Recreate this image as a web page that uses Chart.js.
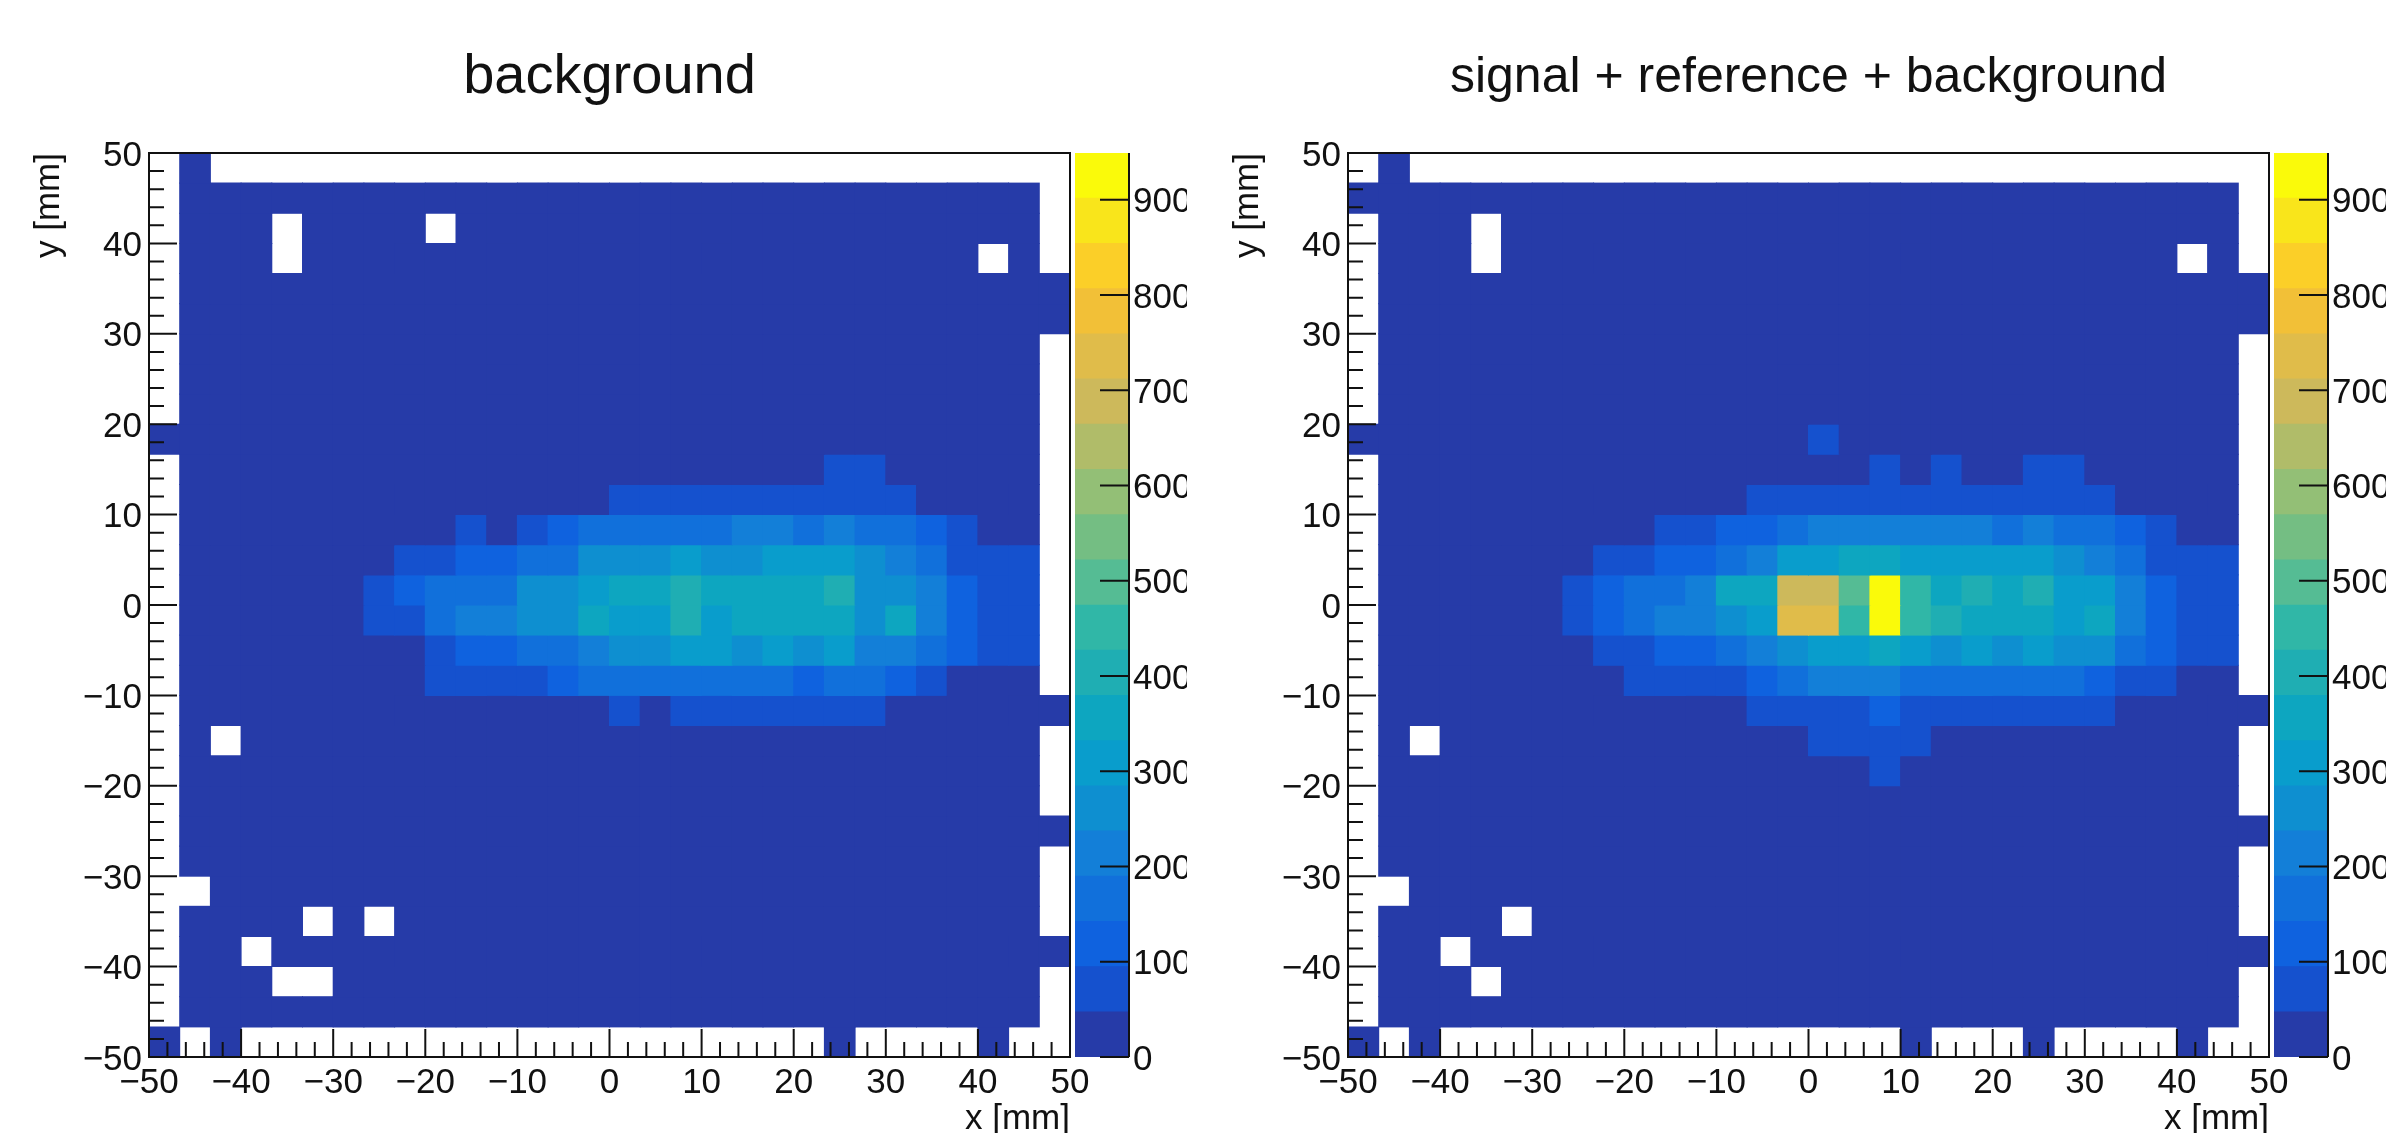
<!DOCTYPE html>
<html>
<head>
<meta charset="utf-8">
<title>background / signal + reference + background</title>
<script src="https://cdn.jsdelivr.net/npm/chart.js@4"></script>
<style>
  html, body { margin: 0; padding: 0; background: #fff; overflow: hidden; }
  canvas { position: absolute; top: 0; }
</style>
</head>
<body>
<canvas id="panelBackground" width="1170" height="1133" style="left:0"></canvas>
<canvas id="panelSignal" width="1170" height="1133" style="left:1199px"></canvas>
<canvas id="paletteBackground" width="112" height="1133" style="left:1075px"></canvas>
<canvas id="paletteSignal" width="112" height="1133" style="left:2274px"></canvas>
<script>
const N = null;

// Bin edges along both axes, in mm
const binEdges = [-50, -46.67, -43.33, -40, -36.67, -33.33, -30, -26.67, -23.33, -20, -16.67, -13.33, -10, -6.67, -3.33,
  0, 3.33, 6.67, 10, 13.33, 16.67, 20, 23.33, 26.67, 30, 33.33, 36.67, 40, 43.33, 46.67, 50];
const axisTicks = [-50, -40, -30, -20, -10, 0, 10, 20, 30, 40, 50];
const paletteTicks = [0, 100, 200, 300, 400, 500, 600, 700, 800, 900];

// Contour levels and their colours (bottom to top)
const contourLevels = [0, 47.5, 94.9, 142.4, 189.8, 237.3, 284.7, 332.2, 379.6, 427.1, 474.5, 522, 569.4, 616.9,
  664.3, 711.8, 759.2, 806.7, 854.1, 901.6, 949];
const contourColors = ['#263BA8', '#1551CE', '#0F62DF', '#1170DB', '#137FD8', '#0E8FD0', '#099DCC', '#0DA6C0', '#1FAEB3', '#30B7A7',
  '#55BC94', '#74BE83', '#93BF76', '#B0BC69', '#CDB95B', '#E0BC4A', '#F2C037', '#FBCF28', '#F9E51B', '#FAFA0A'];

// Counts per cell, first row is y = 50 side, first column is x = -50 side
const backgroundCounts = [
  [N,20,N,N,N,N,N,N,N,N,N,N,N,N,N,N,N,N,N,N,N,N,N,N,N,N,N,N,N,N],
  [N,20,20,20,20,20,20,20,20,20,20,20,20,20,20,20,20,20,20,20,20,20,20,20,20,20,20,20,20,N],
  [N,20,20,20,N,20,20,20,20,N,20,20,20,20,20,20,20,20,20,20,20,20,20,20,20,20,20,20,20,N],
  [N,20,20,20,N,20,20,20,20,20,20,20,20,20,20,20,20,20,20,20,20,20,20,20,20,20,20,N,20,N],
  [N,20,20,20,20,20,20,20,20,20,20,20,20,20,20,20,20,20,20,20,20,20,20,20,20,20,20,20,20,20],
  [N,20,20,20,20,20,20,20,20,20,20,20,20,20,20,20,20,20,20,20,20,20,20,20,20,20,20,20,20,20],
  [N,20,20,20,20,20,20,20,20,20,20,20,20,20,20,20,20,20,20,20,20,20,20,20,20,20,20,20,20,N],
  [N,20,20,20,20,20,20,20,20,20,20,20,20,20,20,20,20,20,20,20,20,20,20,20,20,20,20,20,20,N],
  [N,20,20,20,20,20,20,20,20,20,20,20,20,20,20,20,20,20,20,20,20,20,20,20,20,20,20,20,20,N],
  [20,20,20,20,20,20,20,20,20,20,20,20,20,20,20,20,20,20,20,20,20,20,20,20,20,20,20,20,20,N],
  [N,20,20,20,20,20,20,20,20,20,20,20,20,20,20,20,20,20,20,20,20,20,71,71,20,20,20,20,20,N],
  [N,20,20,20,20,20,20,20,20,20,20,20,20,20,20,71,71,71,71,71,71,71,71,71,71,20,20,20,20,N],
  [N,20,20,20,20,20,20,20,20,20,71,20,71,118,166,166,166,166,166,213,213,166,213,166,166,118,71,20,20,N],
  [N,20,20,20,20,20,20,20,71,71,118,118,166,166,261,261,261,308,261,261,308,308,308,261,213,166,71,71,71,N],
  [N,20,20,20,20,20,20,71,118,166,166,166,261,261,308,356,356,403,356,356,356,356,403,261,261,213,118,71,71,N],
  [N,20,20,20,20,20,20,71,71,166,213,213,261,261,356,308,308,403,308,356,356,356,356,261,356,213,118,71,71,N],
  [N,20,20,20,20,20,20,20,20,71,118,118,166,166,213,261,261,308,308,261,308,261,308,213,213,166,118,71,71,N],
  [N,20,20,20,20,20,20,20,20,71,71,71,71,118,166,166,166,166,166,166,166,118,166,166,118,71,20,20,20,N],
  [N,20,20,20,20,20,20,20,20,20,20,20,20,20,20,71,20,71,71,71,71,71,71,71,20,20,20,20,20,20],
  [N,20,N,20,20,20,20,20,20,20,20,20,20,20,20,20,20,20,20,20,20,20,20,20,20,20,20,20,20,N],
  [N,20,20,20,20,20,20,20,20,20,20,20,20,20,20,20,20,20,20,20,20,20,20,20,20,20,20,20,20,N],
  [N,20,20,20,20,20,20,20,20,20,20,20,20,20,20,20,20,20,20,20,20,20,20,20,20,20,20,20,20,N],
  [N,20,20,20,20,20,20,20,20,20,20,20,20,20,20,20,20,20,20,20,20,20,20,20,20,20,20,20,20,20],
  [N,20,20,20,20,20,20,20,20,20,20,20,20,20,20,20,20,20,20,20,20,20,20,20,20,20,20,20,20,N],
  [N,N,20,20,20,20,20,20,20,20,20,20,20,20,20,20,20,20,20,20,20,20,20,20,20,20,20,20,20,N],
  [N,20,20,20,20,N,20,N,20,20,20,20,20,20,20,20,20,20,20,20,20,20,20,20,20,20,20,20,20,N],
  [N,20,20,N,20,20,20,20,20,20,20,20,20,20,20,20,20,20,20,20,20,20,20,20,20,20,20,20,20,20],
  [N,20,20,20,N,N,20,20,20,20,20,20,20,20,20,20,20,20,20,20,20,20,20,20,20,20,20,20,20,N],
  [N,20,20,20,20,20,20,20,20,20,20,20,20,20,20,20,20,20,20,20,20,20,20,20,20,20,20,20,20,N],
  [20,N,20,N,N,N,N,N,N,N,N,N,N,N,N,N,N,N,N,N,N,N,20,N,N,N,N,20,N,N]
];

const signalCounts = [
  [N,20,N,N,N,N,N,N,N,N,N,N,N,N,N,N,N,N,N,N,N,N,N,N,N,N,N,N,N,N],
  [20,20,20,20,20,20,20,20,20,20,20,20,20,20,20,20,20,20,20,20,20,20,20,20,20,20,20,20,20,N],
  [N,20,20,20,N,20,20,20,20,20,20,20,20,20,20,20,20,20,20,20,20,20,20,20,20,20,20,20,20,N],
  [N,20,20,20,N,20,20,20,20,20,20,20,20,20,20,20,20,20,20,20,20,20,20,20,20,20,20,N,20,N],
  [N,20,20,20,20,20,20,20,20,20,20,20,20,20,20,20,20,20,20,20,20,20,20,20,20,20,20,20,20,20],
  [N,20,20,20,20,20,20,20,20,20,20,20,20,20,20,20,20,20,20,20,20,20,20,20,20,20,20,20,20,20],
  [N,20,20,20,20,20,20,20,20,20,20,20,20,20,20,20,20,20,20,20,20,20,20,20,20,20,20,20,20,N],
  [N,20,20,20,20,20,20,20,20,20,20,20,20,20,20,20,20,20,20,20,20,20,20,20,20,20,20,20,20,N],
  [N,20,20,20,20,20,20,20,20,20,20,20,20,20,20,20,20,20,20,20,20,20,20,20,20,20,20,20,20,N],
  [20,20,20,20,20,20,20,20,20,20,20,20,20,20,20,71,20,20,20,20,20,20,20,20,20,20,20,20,20,N],
  [N,20,20,20,20,20,20,20,20,20,20,20,20,20,20,20,20,71,20,71,20,20,71,71,20,20,20,20,20,N],
  [N,20,20,20,20,20,20,20,20,20,20,20,20,71,71,71,71,71,71,71,71,71,71,71,71,20,20,20,20,N],
  [N,20,20,20,20,20,20,20,20,20,71,71,118,118,166,213,213,213,213,213,213,166,213,166,166,118,71,20,20,N],
  [N,20,20,20,20,20,20,20,71,71,118,118,166,213,308,308,356,356,308,308,308,308,308,261,213,166,71,71,71,N],
  [N,20,20,20,20,20,20,71,118,166,166,213,356,356,688,688,498,925,451,356,403,356,403,308,308,213,118,71,71,N],
  [N,20,20,20,20,20,20,71,118,166,213,213,261,308,735,735,451,925,451,403,356,356,356,308,356,213,118,71,71,N],
  [N,20,20,20,20,20,20,20,71,71,118,118,166,213,261,308,308,356,308,261,308,261,308,261,261,166,118,71,71,N],
  [N,20,20,20,20,20,20,20,20,71,71,71,71,118,166,213,213,213,166,166,166,166,166,166,118,71,71,20,20,N],
  [N,20,20,20,20,20,20,20,20,20,20,20,20,71,71,71,71,118,71,71,71,71,71,71,71,20,20,20,20,20],
  [N,20,N,20,20,20,20,20,20,20,20,20,20,20,20,71,71,71,71,20,20,20,20,20,20,20,20,20,20,N],
  [N,20,20,20,20,20,20,20,20,20,20,20,20,20,20,20,20,71,20,20,20,20,20,20,20,20,20,20,20,N],
  [N,20,20,20,20,20,20,20,20,20,20,20,20,20,20,20,20,20,20,20,20,20,20,20,20,20,20,20,20,N],
  [N,20,20,20,20,20,20,20,20,20,20,20,20,20,20,20,20,20,20,20,20,20,20,20,20,20,20,20,20,20],
  [N,20,20,20,20,20,20,20,20,20,20,20,20,20,20,20,20,20,20,20,20,20,20,20,20,20,20,20,20,N],
  [N,N,20,20,20,20,20,20,20,20,20,20,20,20,20,20,20,20,20,20,20,20,20,20,20,20,20,20,20,N],
  [N,20,20,20,20,N,20,20,20,20,20,20,20,20,20,20,20,20,20,20,20,20,20,20,20,20,20,20,20,N],
  [N,20,20,N,20,20,20,20,20,20,20,20,20,20,20,20,20,20,20,20,20,20,20,20,20,20,20,20,20,20],
  [N,20,20,20,N,20,20,20,20,20,20,20,20,20,20,20,20,20,20,20,20,20,20,20,20,20,20,20,20,N],
  [N,20,20,20,20,20,20,20,20,20,20,20,20,20,20,20,20,20,20,20,20,20,20,20,20,20,20,20,20,N],
  [20,N,20,N,N,N,N,N,N,N,N,N,N,N,N,N,N,N,20,N,N,N,20,N,N,N,N,20,N,N]
];

const FONT = '"Liberation Sans", Arial, sans-serif';
const INK = '#111';

// Picks the contour colour of a cell
function colorForCount(value) {
  let level = 0;
  while (level < contourColors.length - 1 && value >= contourLevels[level + 1]) level++;
  return contourColors[level];
}

// Inward ticks and the frame, ROOT style; the library only draws ticks outward
const frameAndTicks = {
  id: 'frameAndTicks',
  afterDatasetsDraw(chart) {
    const { ctx, chartArea: area, scales } = chart;
    ctx.save();
    ctx.strokeStyle = INK;
    ctx.lineWidth = 2;
    ctx.strokeRect(area.left, area.top, area.right - area.left, area.bottom - area.top);
    ctx.beginPath();
    for (let v = -50; v <= 50; v += 2) {
      const len = v % 10 === 0 ? 28 : 15;
      const px = scales.x.getPixelForValue(v);
      const py = scales.y.getPixelForValue(v);
      ctx.moveTo(px, area.bottom);
      ctx.lineTo(px, area.bottom - len);
      ctx.moveTo(area.left, py);
      ctx.lineTo(area.left + len, py);
    }
    ctx.stroke();
    ctx.restore();
  }
};

const paletteAxis = {
  id: 'paletteAxis',
  afterDatasetsDraw(chart) {
    const { ctx, chartArea: area, scales } = chart;
    ctx.save();
    ctx.strokeStyle = INK;
    ctx.lineWidth = 2;
    ctx.beginPath();
    ctx.moveTo(area.right, area.top);
    ctx.lineTo(area.right, area.bottom);
    paletteTicks.forEach(v => {
      const py = scales.y.getPixelForValue(v);
      ctx.moveTo(area.right - 29, py);
      ctx.lineTo(area.right, py);
    });
    ctx.stroke();
    ctx.restore();
  }
};

function tickFont() {
  return { family: FONT, size: 35 };
}

function drawPanel(canvasId, titleText, titleSize, counts) {
  const datasets = counts.map((row, j) => ({
    xAxisID: 'xBins',
    yAxisID: 'y',
    grouped: false,
    categoryPercentage: 1,
    barPercentage: 1,
    inflateAmount: 0.5,
    data: row.map(v => (v === null ? null : [binEdges[29 - j], binEdges[30 - j]])),
    backgroundColor: row.map(v => (v === null ? 'rgba(0,0,0,0)' : colorForCount(v)))
  }));

  return new Chart(document.getElementById(canvasId), {
    type: 'bar',
    data: { labels: binEdges.slice(0, 30), datasets },
    plugins: [frameAndTicks],
    options: {
      responsive: false,
      animation: false,
      layout: { padding: { left: 0, right: 100, top: 0, bottom: 0 } },
      plugins: {
        legend: { display: false },
        tooltip: { enabled: false },
        title: {
          display: true,
          text: titleText,
          fullSize: false,
          color: INK,
          font: { family: FONT, size: titleSize, weight: 'normal', lineHeight: 1 },
          padding: { top: 78 - titleSize / 2, bottom: 75 - titleSize / 2 }
        }
      },
      scales: {
        xBins: { type: 'category', axis: 'x', display: false, offset: true, grid: { display: false } },
        x: {
          type: 'linear',
          axis: 'x',
          position: 'bottom',
          min: -50,
          max: 50,
          offset: false,
          grid: { display: false, drawTicks: false, offset: false },
          border: { display: false },
          afterFit: s => { s.height = 76; },
          afterBuildTicks: s => { s.ticks = axisTicks.map(value => ({ value })); },
          ticks: {
            autoSkip: false,
            maxRotation: 0,
            padding: 5,
            color: INK,
            font: tickFont(),
            callback: v => String(v).replace('-', '\u2212')
          },
          title: {
            display: true,
            text: 'x [mm]',
            align: 'end',
            color: INK,
            font: { family: FONT, size: 35, lineHeight: 1 },
            padding: { top: 0, bottom: -4 }
          }
        },
        y: {
          type: 'linear',
          min: -50,
          max: 50,
          grid: { display: false, drawTicks: false },
          border: { display: false },
          afterFit: s => { s.width = 149; },
          afterBuildTicks: s => { s.ticks = axisTicks.map(value => ({ value })); },
          ticks: {
            autoSkip: false,
            padding: 7,
            labelOffset: 3,
            color: INK,
            font: tickFont(),
            callback: v => String(v).replace('-', '\u2212')
          },
          title: {
            display: true,
            text: 'y [mm]',
            align: 'end',
            color: INK,
            font: { family: FONT, size: 35, lineHeight: 1 },
            padding: { top: 32, bottom: 0 }
          }
        }
      }
    }
  });
}

function drawPalette(canvasId) {
  const datasets = contourColors.map((color, i) => ({
    grouped: false,
    categoryPercentage: 1,
    barPercentage: 1,
    data: [[contourLevels[i], contourLevels[i + 1]]],
    backgroundColor: color
  }));

  return new Chart(document.getElementById(canvasId), {
    type: 'bar',
    data: { labels: ['z'], datasets },
    plugins: [paletteAxis],
    options: {
      responsive: false,
      animation: false,
      layout: { padding: { left: 0, right: 0, top: 153, bottom: 76 } },
      plugins: { legend: { display: false }, tooltip: { enabled: false }, title: { display: false } },
      scales: {
        x: { display: false, offset: true, grid: { display: false } },
        y: {
          position: 'right',
          min: 0,
          max: 949,
          grid: { display: false, drawTicks: false },
          border: { display: false },
          afterFit: s => { s.width = 58; },
          afterBuildTicks: s => { s.ticks = paletteTicks.map(value => ({ value })); },
          ticks: { autoSkip: false, padding: 4, labelOffset: 3, color: INK, font: tickFont() }
        }
      }
    }
  });
}

drawPanel('panelBackground', 'background', 56, backgroundCounts);
drawPanel('panelSignal', 'signal + reference + background', 50, signalCounts);
drawPalette('paletteBackground');
drawPalette('paletteSignal');
</script>
</body>
</html>
